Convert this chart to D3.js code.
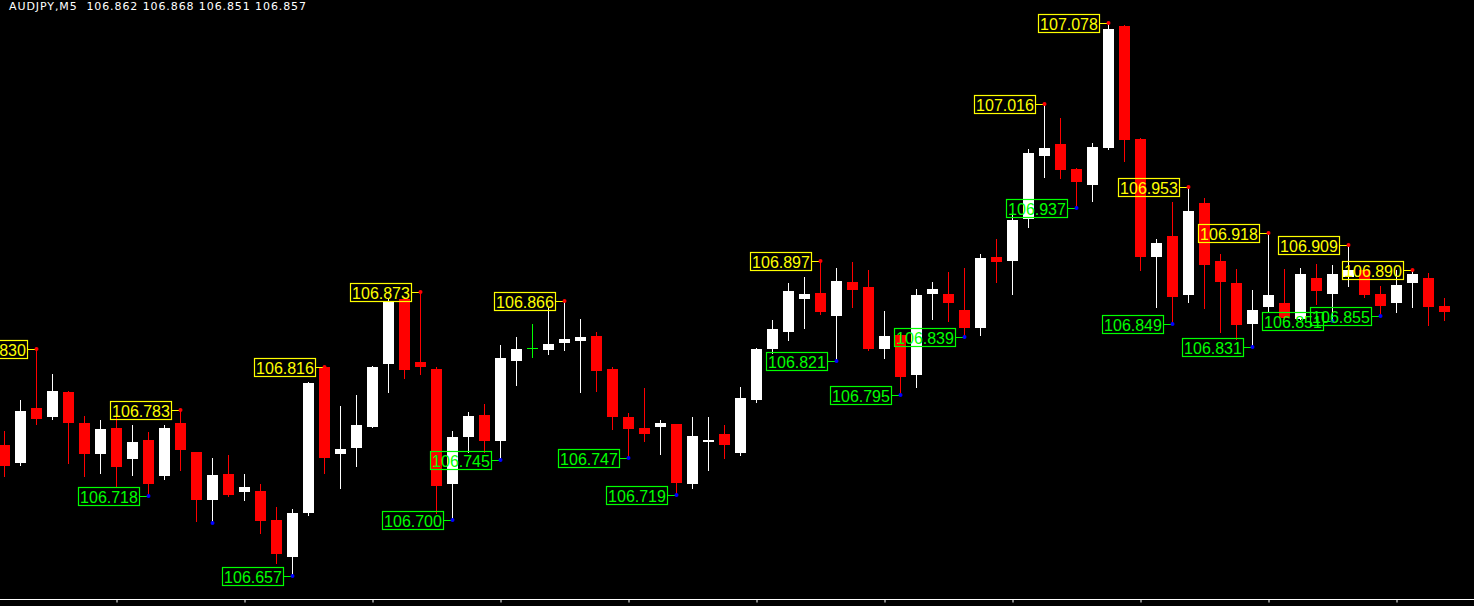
<!DOCTYPE html>
<html>
<head>
<meta charset="utf-8">
<script src="https://cdn.jsdelivr.net/npm/d3@7/dist/d3.min.js"></script>
<style>
  html, body { margin: 0; padding: 0; background: #000; overflow: hidden; }
  svg { display: block; }
</style>
</head>
<body>
<svg id="chart" width="1474" height="606"></svg>
<script>
// AUDJPY M5 bars (oldest first)
var symbol = "AUDJPY,M5";
var opens = [106.756,106.742,106.784,106.777,106.796,106.773,106.749,106.769,106.745,106.760,
  106.732,106.773,106.751,106.714,106.734,106.720,106.721,106.699,106.671,106.704,
  106.815,106.749,106.754,106.770,106.818,106.867,106.819,106.814,106.726,106.762,
  106.779,106.759,106.820,106.830,106.828,106.834,106.835,106.839,106.814,106.777,
  106.769,106.770,106.772,106.726,106.758,106.764,106.750,106.790,106.829,106.842,
  106.867,106.872,106.854,106.880,106.876,106.829,106.840,106.809,106.871,106.871,
  106.859,106.845,106.899,106.896,106.928,106.976,106.985,106.966,106.954,106.982,
  107.075,106.989,106.899,106.915,106.870,106.940,106.896,106.879,106.848,106.861,
  106.864,106.852,106.883,106.871,106.884,106.889,106.871,106.864,106.879,106.883,
  106.862];
var highs = [106.767,106.790,106.830,106.810,106.797,106.778,106.775,106.778,106.771,106.766,
  106.771,106.783,106.751,106.746,106.748,106.734,106.726,106.709,106.707,106.804,
  106.816,106.786,106.794,106.816,106.867,106.869,106.873,106.815,106.767,106.781,
  106.787,106.832,106.838,106.848,106.861,106.866,106.852,106.842,106.815,106.780,
  106.799,106.775,106.772,106.777,106.777,106.771,106.800,106.830,106.851,106.879,
  106.884,106.897,106.891,106.895,106.889,106.858,106.841,106.875,106.880,106.888,
  106.891,106.901,106.913,106.931,106.981,107.016,107.005,106.967,106.986,107.078,
  107.076,106.990,106.913,106.941,106.953,106.944,106.901,106.890,106.874,106.918,
  106.890,106.891,106.894,106.893,106.909,106.892,106.877,106.889,106.890,106.887,
  106.868];
var lows = [106.732,106.741,106.772,106.776,106.742,106.732,106.735,106.724,106.733,106.718,
  106.730,106.737,106.698,106.697,106.717,106.714,106.689,106.666,106.657,106.703,
  106.735,106.723,106.740,106.770,106.796,106.807,106.810,106.704,106.700,106.751,
  106.751,106.745,106.802,106.823,106.825,106.828,106.796,106.797,106.768,106.747,
  106.759,106.749,106.719,106.723,106.737,106.746,106.748,106.789,106.826,106.836,
  106.845,106.856,106.821,106.861,106.828,106.822,106.795,106.800,106.852,106.850,
  106.839,106.840,106.880,106.871,106.922,106.960,106.959,106.937,106.942,106.981,
  106.972,106.889,106.861,106.849,106.865,106.860,106.842,106.837,106.831,106.857,
  106.852,106.852,106.863,106.851,106.877,106.869,106.855,106.857,106.861,106.847,
  106.851];
var closes = [106.740,106.782,106.776,106.797,106.773,106.749,106.768,106.739,106.758,106.726,
  106.769,106.752,106.714,106.733,106.718,106.724,106.698,106.673,106.704,106.803,
  106.746,106.753,106.771,106.815,106.865,106.813,106.815,106.725,106.762,106.778,
  106.759,106.822,106.829,106.830,106.833,106.837,106.838,106.812,106.777,106.768,
  106.764,106.773,106.727,106.763,106.760,106.756,106.792,106.829,106.844,106.873,
  106.871,106.857,106.881,106.874,106.829,106.839,106.808,106.870,106.875,106.864,
  106.845,106.898,106.895,106.927,106.978,106.982,106.965,106.956,106.983,107.073,
  106.988,106.899,106.910,106.869,106.934,106.893,106.880,106.847,106.859,106.870,
  106.853,106.886,106.873,106.886,106.889,106.870,106.862,106.878,106.886,106.861,
  106.857];

// swing marks of the indicator (bar indexes)
var peakBars = [2, 11, 20, 26, 35, 51, 65, 69, 74, 79, 84, 88];
var troughBars = [9, 18, 28, 31, 39, 42, 52, 56, 60, 67, 73, 78, 83, 86];
var bareTroughMarks = [13];   // dot without a label
var timeTicks = [7, 15, 23, 31, 39, 47, 55, 63, 71, 79, 87];

var svg = d3.select("#chart"),
    width = +svg.attr("width"),
    height = +svg.attr("height");

svg.append("rect").attr("width", width).attr("height", height).attr("fill", "#000");

var n = closes.length;
var x = d3.scaleLinear().domain([0, n - 1]).range([4.5, 4.5 + 16 * (n - 1)]);
var y = d3.scaleLinear().domain([106.657, 107.078]).range([575, 22]);

var bars = d3.range(n).map(function(i) {
    return {i: i, o: opens[i], h: highs[i], l: lows[i], c: closes[i]};
});

function barColor(d) {
    if (d.c === d.o) return "#00ff00";
    return d.c > d.o ? "#ffffff" : "#ff0000";
}

var candles = svg.append("g").attr("class", "candles")
    .selectAll("g").data(bars).enter().append("g");

// wicks
candles.append("rect")
    .attr("x", function(d) { return x(d.i) - 0.5; })
    .attr("y", function(d) { return Math.round(y(d.h)); })
    .attr("width", 1)
    .attr("height", function(d) { return Math.round(y(d.l)) - Math.round(y(d.h)) + 1; })
    .attr("fill", barColor);

// bodies
candles.append("rect")
    .attr("x", function(d) { return x(d.i) - 5.5; })
    .attr("y", function(d) { return Math.round(y(Math.max(d.o, d.c))); })
    .attr("width", 11)
    .attr("height", function(d) {
        return Math.max(1, Math.round(y(Math.min(d.o, d.c))) - Math.round(y(Math.max(d.o, d.c))));
    })
    .attr("fill", barColor);

// price labels
function drawMarks(idx, isPeak) {
    var col = isPeak ? "#ffff00" : "#00ff00";
    var dot = isPeak ? "#ff0000" : "#0000ff";
    var g = svg.append("g").attr("class", isPeak ? "peaks" : "troughs")
        .selectAll("g").data(idx).enter().append("g");

    g.each(function(i) {
        var el = d3.select(this);
        var price = isPeak ? highs[i] : lows[i];
        var cx = x(i), py = Math.round(y(price));
        var bx = Math.round(cx - 9.5 - 61), by = py - 8;

        el.append("line")
            .attr("x1", bx + 61).attr("x2", cx)
            .attr("y1", py + 1.5).attr("y2", py + 1.5)
            .attr("stroke", col).attr("stroke-width", 1);
        el.append("rect")
            .attr("x", bx + 0.5).attr("y", by + 0.5)
            .attr("width", 61).attr("height", 18)
            .attr("fill", "none").attr("stroke", col).attr("stroke-width", 1.2);
        el.append("text")
            .attr("x", bx + 31).attr("y", by + 16)
            .attr("text-anchor", "middle")
            .attr("font-family", "'Liberation Sans', Arial, sans-serif")
            .attr("font-size", "16px")
            .attr("fill", col)
            .text(price.toFixed(3));
        el.append("circle")
            .attr("cx", cx).attr("cy", py + 1)
            .attr("r", 2).attr("fill", dot);
    });
}
drawMarks(peakBars, true);
drawMarks(troughBars, false);

svg.append("g").selectAll("circle").data(bareTroughMarks).enter().append("circle")
    .attr("cx", function(i) { return x(i); })
    .attr("cy", function(i) { return Math.round(y(lows[i])) + 1; })
    .attr("r", 2).attr("fill", "#0000ff");

// time axis at the bottom (ticks only)
svg.append("line")
    .attr("x1", 0).attr("x2", width)
    .attr("y1", 599.5).attr("y2", 599.5)
    .attr("stroke", "#fff").attr("stroke-width", 1);

var axis = d3.axisBottom(x).tickValues(timeTicks).tickSize(3).tickFormat("");
var axisG = svg.append("g").attr("transform", "translate(0,599.5)").call(axis);
axisG.select(".domain").remove();
axisG.selectAll(".tick line").attr("stroke", "#fff");

// header with last bar values
var last = n - 1;
svg.append("text")
    .attr("x", 9).attr("y", 10)
    .attr("xml:space", "preserve")
    .attr("font-family", "'DejaVu Sans', sans-serif")
    .attr("font-size", "11px")
    .attr("fill", "#fff")
    .attr("textLength", 297).attr("lengthAdjust", "spacing")
    .text(symbol + "  " + [opens[last], highs[last], lows[last], closes[last]]
        .map(function(v) { return v.toFixed(3); }).join(" "));
</script>
</body>
</html>
